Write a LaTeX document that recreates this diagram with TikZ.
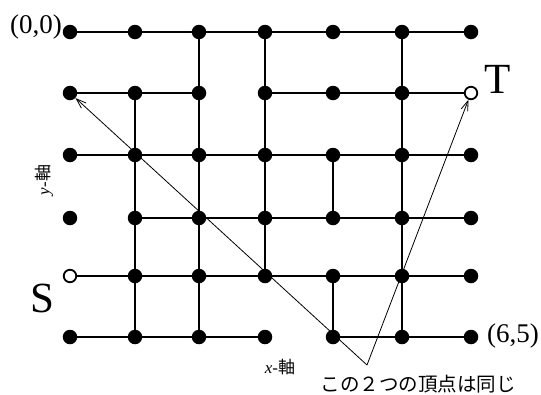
\documentclass[tikz,border=0pt]{standalone}
\usepackage{fontspec}
\setmainfont{Liberation Serif}
\newfontfamily\cjk{Noto Sans CJK JP}
\usetikzlibrary{arrows.meta}
\begin{document}
\begin{tikzpicture}[x=1pt,y=-1pt,
  dot/.style={circle,fill=black,inner sep=0pt,minimum size=14.5pt},
  opendot/.style={circle,draw=black,fill=white,line width=1.8pt,inner sep=0pt,minimum size=12.5pt},
  edge/.style={line width=2.5pt},
  pointer/.style={line width=0.8pt},
  pointerarrow/.style={pointer,-{Straight Barb[length=10pt,width=7pt,line width=0.8pt]}},
  lab/.style={inner sep=0pt}]
\useasboundingbox (0,0) rectangle (541,394);
% columns and rows
\def\cx{{70,135,199,265,333,402,471}}
\def\ry{{32,93,155,218,276,337}}
\foreach \c in {0,...,6}{
  \foreach \r in {0,...,5}{
    \pgfmathsetmacro\xx{\cx[\c]}
    \pgfmathsetmacro\yy{\ry[\r]}
    \ifnum\c=6 \ifnum\r=1 \def\st{opendot}\else\def\st{dot}\fi
    \else\ifnum\c=0 \ifnum\r=4 \def\st{opendot}\else\def\st{dot}\fi
    \else\def\st{dot}\fi\fi
    \node[\st] (n\c\r) at (\xx,\yy) {};
  }
}
% horizontal edges
\foreach \a/\b/\r in {0/1/0,1/2/0,2/3/0,3/4/0,4/5/0,5/6/0,
                     0/1/1,1/2/1,3/4/1,4/5/1,5/6/1,
                     0/1/2,1/2/2,2/3/2,3/4/2,4/5/2,5/6/2,
                     1/2/3,2/3/3,3/4/3,4/5/3,5/6/3,
                     0/1/4,1/2/4,2/3/4,3/4/4,4/5/4,5/6/4,
                     0/1/5,1/2/5,2/3/5,4/5/5,5/6/5}
  \draw[edge] (n\a\r) -- (n\b\r);
% vertical edges
\foreach \c/\a/\b in {2/0/1,3/0/1,5/0/1,
                     1/1/2,2/1/2,3/1/2,5/1/2,
                     1/2/3,2/2/3,3/2/3,4/2/3,5/2/3,
                     1/3/4,2/3/4,3/3/4,5/3/4,
                     1/4/5,2/4/5,4/4/5,5/4/5}
  \draw[edge] (n\c\a) -- (n\c\b);
% pointer lines
\coordinate (v) at (367,365);
\draw[pointerarrow] (v) -- (n01);
\draw[pointerarrow] (v) -- (n61);
% labels
\node[lab,font=\fontsize{27}{30}\selectfont] (l00) at (36,27) {(0,0)};
\node[lab,font=\fontsize{27}{30}\selectfont] (l65) at (513,336) {(6,5)};
\node[lab,font=\fontsize{43}{46}\selectfont] (lT) at (498,79) {T};
\node[lab,font=\fontsize{43}{46}\selectfont] (lS) at (42,298) {S};
\node[lab,rotate=90,font=\fontsize{17}{20}\selectfont] (ly) at (44,180) {\textit{y}-{\cjk 軸}};
\node[lab,font=\fontsize{17}{20}\selectfont] (lx) at (280,367) {\textit{x}-{\cjk 軸}};
\node[lab,font=\cjk\fontsize{19.5}{22}\selectfont] (note) at (418,384) {この２つの頂点は同じ};
\end{tikzpicture}
\end{document}
